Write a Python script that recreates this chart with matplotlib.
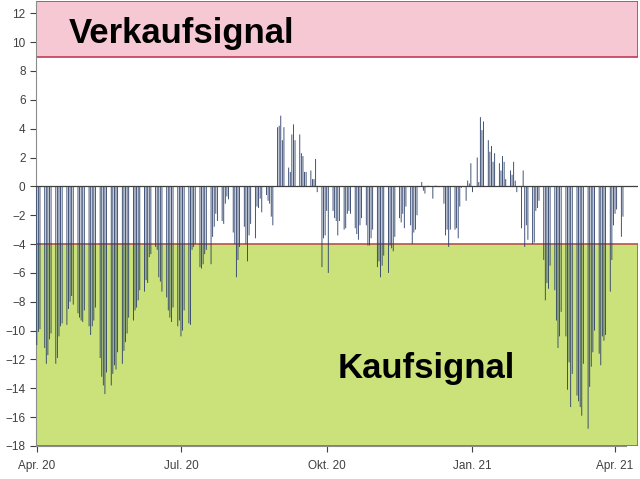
import numpy as np
import pandas as pd
import matplotlib
matplotlib.use('Agg')
import matplotlib.pyplot as plt
import matplotlib.dates as mdates
from matplotlib.patches import Rectangle

plt.rcParams['font.family'] = ['Liberation Sans', 'DejaVu Sans']

# Tageswerte (Mo-Fr), Woche fuer Woche ab 01.04.2020
values = [
    -11.0, -10.1, -9.9,                      # 01.04.
    -11.2, -12.3, -11.7, -10.6, -10.2,       # 06.04.
    -12.3, -11.9, -10.4, -9.7, -9.5,         # 13.04.
    -9.6, -8.5, -8.0, -7.6, -8.2,            # 20.04.
    -8.8, -9.1, -9.3, -9.4, -8.6,            # 27.04.
    -9.7, -10.3, -9.7, -9.3, -8.4,           # 04.05.
    -11.9, -13.2, -13.8, -14.4, -12.9,       # 11.05.
    -13.8, -13.0, -12.4, -12.7, -11.5,       # 18.05.
    -12.3, -11.4, -10.8, -10.2, -9.1,        # 25.05.
    -9.3, -8.6, -8.4, -7.9, -7.2,            # 01.06.
    -7.3, -6.5, -6.7, -4.9, -4.7,            # 08.06.
    -4.2, -4.4, -6.3, -6.6, -7.3,            # 15.06.
    -7.7, -8.6, -9.1, -9.4, -8.4,            # 22.06.
    -9.7, -9.3, -10.4, -10.0, -8.6,          # 29.06.
    -9.5, -9.6, -4.4, -4.2, -4.0,            # 06.07.
    -5.6, -5.7, -5.4, -4.7, -4.4,            # 13.07.
    -5.4, -3.5, -2.8, -1.9, -2.4,            # 20.07.
    -2.4, -2.6, -1.2, -0.7, -0.9,            # 27.07.
    -3.2, -4.0, -6.3, -5.1, -4.2,            # 03.08.
    -2.8, -4.0, -5.2, -3.4, -2.6,            # 10.08.
    -3.6, -1.4, -1.5, -0.85, -1.8,           # 17.08.
    -0.6, -1.0, -1.2, -2.1, -2.7,            # 24.08.
    4.1, 4.2, 4.9, 3.2, 4.1,                 # 31.08.
    1.3, 1.0, 3.6, 4.3, 3.2,                 # 07.09.
    3.6, 2.3, 2.1, 1.0, 1.0,                 # 14.09.
    1.1, 0.5, 0.5, 1.9, -0.4,                # 21.09.
    -5.6, -3.6, -3.4, -1.7, -6.0,            # 28.09.
    -1.7, -2.2, -2.4, -3.4, -2.4,            # 05.10.
    -3.0, -2.9, -1.9, -1.7, -1.9,            # 12.10.
    -2.9, -3.3, -3.7, -2.7, -2.2,            # 19.10.
    -2.7, -4.1, -4.1, -3.6, -3.0,            # 26.10.
    -5.6, -5.2, -6.3, -5.5, -4.8,            # 02.11.
    -6.0, -4.1, -4.3, -4.5, -3.5,            # 09.11.
    -2.2, -2.5, -1.9, -2.9, -1.4,            # 16.11.
    -2.7, -4.0, -3.2, -3.0, -2.0,            # 23.11.
    0.3, -0.3, -0.5, -0.05, 0.05,            # 30.11.
    -0.85, -0.05, 0.05, -0.05, -0.05,        # 07.12.
    -1.2, -3.4, -3.0, -4.2, -3.0,            # 14.12.
    -3.0, -2.9, -3.6, -1.4, -0.1,            # 21.12.
    -1.0, 0.4, 0.2, 1.6, -0.4,               # 28.12.
    2.0, 0.3, 4.8, 3.9, 4.5,                 # 04.01.
    3.2, 2.4, 2.8, 1.7, 2.3,                 # 11.01.
    1.6, 1.1, 2.1, 1.7, 0.5,                 # 18.01.
    1.1, 0.8, 1.7, 0.4, -0.4,                # 25.01.
    -2.9, 1.1, -4.2, -2.7, -3.7,             # 01.02.
    -4.0, -3.9, -1.7, -1.5, -1.0,            # 08.02.
    -5.1, -7.9, -6.7, -7.1, -5.5,            # 15.02.
    -7.2, -9.3, -11.2, -10.4, -8.7,          # 22.02.
    -10.4, -14.1, -12.2, -15.3, -13.0,       # 01.03.
    -14.5, -14.9, -15.3, -15.9, -12.3,       # 08.03.
    -16.8, -13.9, -12.5, -11.5, -10.0,       # 15.03.
    -11.6, -12.4, -10.4, -10.7, -10.3,       # 22.03.
    -7.3, -5.1, -2.7, -1.9, -1.6,            # 29.03.
    -3.5, -2.1,                              # 05.04.
]
dates = pd.bdate_range('2020-04-01', periods=len(values))

tick_dates = pd.to_datetime(['2020-04-01', '2020-07-01', '2020-10-01', '2021-01-01', '2021-04-01'])
tick_labels = ['Apr. 20', 'Jul. 20', 'Okt. 20', 'Jan. 21', 'Apr. 21']

sell_zone = (9, 12.85)
buy_zone = (-18, -4)

fig = plt.figure(figsize=(6.4, 4.79), dpi=100)
ax = fig.add_axes([36 / 640, 1 - 446 / 479, 602 / 640, 445 / 479])

x0 = pd.Timestamp('2020-03-31 12:00')
x1 = x0 + pd.Timedelta(days=380)
ax.set_xlim(x0, x1)
ax.set_ylim(-18, 12.85)

# Signalzonen
for (lo, hi), fc, ec in [(sell_zone, '#f6c8d4', '#c23a55'), (buy_zone, '#cbe27a', '#b8524a')]:
    ax.add_patch(Rectangle((mdates.date2num(x0), lo), mdates.date2num(x1) - mdates.date2num(x0), hi - lo,
                           facecolor=fc, edgecolor=ec, linewidth=1.2, zorder=1))

ax.bar(dates, values, width=0.55, color='#2b3f6a', linewidth=0, snap=False, zorder=3)
ax.axhline(0, color='#404040', linewidth=0.9, zorder=4)

ax.text(pd.Timestamp('2020-04-21'), 9.95, 'Verkaufsignal', fontsize=25, fontweight='bold',
        color='black', va='baseline', zorder=5)
ax.text(pd.Timestamp('2020-10-08'), -13.3, 'Kaufsignal', fontsize=25, fontweight='bold',
        color='black', va='baseline', zorder=5)

ax.set_yticks(np.arange(-18, 13, 2))
ax.set_xticks(tick_dates)
ax.set_xticklabels(tick_labels)
ax.tick_params(axis='both', labelsize=8.5, colors='#404040', length=4, width=0.8)
ax.tick_params(axis='x', pad=6)

for side in ['top', 'right']:
    ax.spines[side].set_visible(False)
ax.spines['left'].set_color('#8c8c8c')
ax.spines['bottom'].set_color('#8c8c8c')
ax.spines['bottom'].set_bounds(mdates.date2num(x0), mdates.date2num(pd.Timestamp('2021-04-08')))
ax.spines['bottom'].set_zorder(6)

fig.savefig('out.png', dpi=100)
